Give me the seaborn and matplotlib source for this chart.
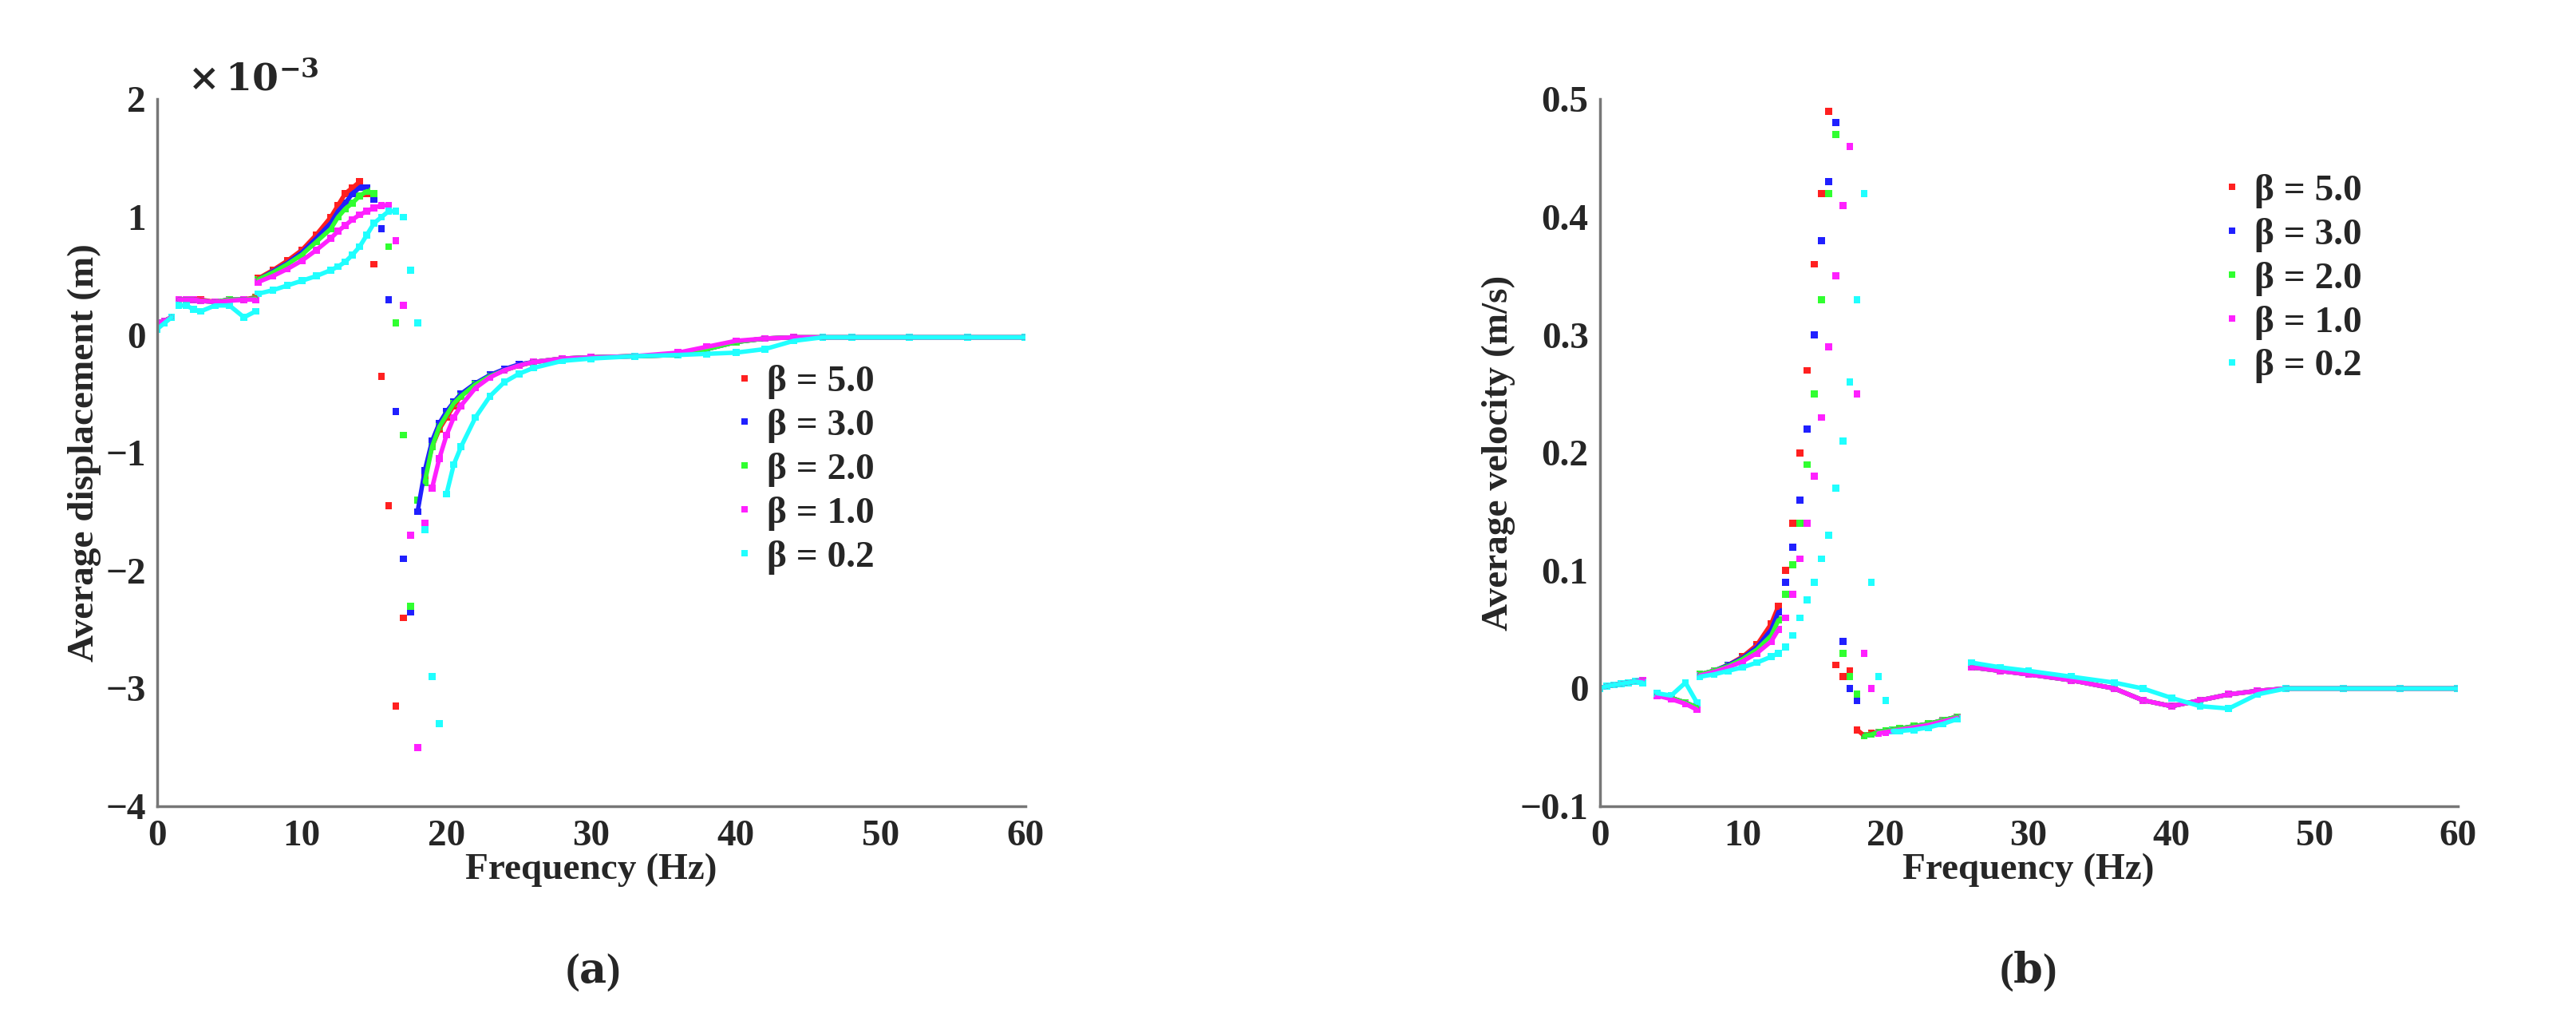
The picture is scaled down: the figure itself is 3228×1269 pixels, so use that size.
import numpy as np
import pandas as pd
import seaborn as sns
import matplotlib.pyplot as plt

sns.set_theme(style="white")
plt.rcParams['font.family'] = ['Liberation Serif', 'DejaVu Serif']
plt.rcParams['font.weight'] = 'bold'
plt.rcParams['mathtext.fontset'] = 'dejavuserif'

freq = [0, 0.5, 1, 1.5, 2, 2.5, 3, 4, 5, 6, 6.8,
        7, 8, 9, 10, 11, 12,
        12.5, 13, 13.5, 14, 14.5, 15, 15.5, 16, 16.5, 17, 17.5, 18, 18.5, 19, 19.5, 20, 20.5, 21,
        22, 23, 24, 25, 26, 28, 30,
        33, 36, 38, 40, 42, 44, 46, 48, 52, 56, 60]

betas = ["β = 5.0", "β = 3.0", "β = 2.0", "β = 1.0", "β = 0.2"]
colors = ["#ff2020", "#2020ff", "#30ff30", "#ff20ff", "#20ffff"]

# displacement, x 1e-3 m
disp_b50 = [0.10, 0.12, 0.15, 0.30, 0.30, 0.30, 0.30, 0.28, 0.30, 0.30, 0.32,
            0.48, 0.55, 0.63, 0.72, 0.85, 1.00,
            1.10, 1.20, 1.25, 1.30, 1.20, 0.60, -0.35, -1.45, -3.15, -2.40, -1.70, -1.50, -1.20, -0.95, -0.80, -0.70, -0.60, -0.52,
            -0.42, -0.35, -0.30, -0.26, -0.23, -0.20, -0.19,
            -0.18, -0.17, -0.12, -0.06, -0.03, -0.02, -0.02, -0.02, -0.02, -0.02, -0.02]
disp_b30 = [0.10, 0.12, 0.15, 0.30, 0.30, 0.30, 0.29, 0.28, 0.30, 0.30, 0.31,
            0.47, 0.54, 0.61, 0.70, 0.82, 0.95,
            1.05, 1.12, 1.20, 1.25, 1.25, 1.15, 0.90, 0.30, -0.65, -1.90, -2.35, -1.50, -1.15, -0.90, -0.75, -0.65, -0.57, -0.50,
            -0.41, -0.34, -0.29, -0.25, -0.23, -0.20, -0.19,
            -0.18, -0.17, -0.12, -0.06, -0.03, -0.02, -0.02, -0.02, -0.02, -0.02, -0.02]
disp_b20 = [0.10, 0.12, 0.15, 0.30, 0.30, 0.30, 0.29, 0.28, 0.30, 0.30, 0.31,
            0.47, 0.53, 0.60, 0.68, 0.79, 0.90,
            1.00, 1.07, 1.12, 1.18, 1.22, 1.20, 1.10, 0.75, 0.10, -0.85, -2.30, -1.40, -1.25, -0.95, -0.78, -0.68, -0.58, -0.52,
            -0.42, -0.35, -0.30, -0.26, -0.23, -0.20, -0.19,
            -0.18, -0.17, -0.12, -0.06, -0.03, -0.02, -0.02, -0.02, -0.02, -0.02, -0.02]
disp_b10 = [0.10, 0.12, 0.15, 0.30, 0.30, 0.30, 0.29, 0.28, 0.29, 0.30, 0.30,
            0.45, 0.50, 0.56, 0.63, 0.72, 0.82,
            0.88, 0.93, 0.98, 1.02, 1.05, 1.08, 1.10, 1.10, 0.80, 0.25, -1.70, -3.50, -1.60, -1.30, -1.05, -0.85, -0.70, -0.60,
            -0.45, -0.36, -0.30, -0.26, -0.23, -0.20, -0.19,
            -0.18, -0.15, -0.10, -0.05, -0.03, -0.02, -0.02, -0.02, -0.02, -0.02, -0.02]
disp_b02 = [0.05, 0.10, 0.15, 0.25, 0.25, 0.22, 0.20, 0.25, 0.25, 0.15, 0.20,
            0.35, 0.38, 0.42, 0.46, 0.50, 0.55,
            0.58, 0.62, 0.68, 0.75, 0.85, 0.95, 1.00, 1.05, 1.05, 1.00, 0.55, 0.10, -1.65, -2.90, -3.30, -1.35, -1.10, -0.95,
            -0.70, -0.52, -0.40, -0.33, -0.28, -0.22, -0.20,
            -0.18, -0.17, -0.16, -0.15, -0.12, -0.05, -0.02, -0.02, -0.02, -0.02, -0.02]

# velocity, m/s
vel_b50 = [0.000, 0.002, 0.003, 0.004, 0.005, 0.006, 0.007, -0.005, -0.008, -0.012, -0.016,
           0.012, 0.015, 0.020, 0.027, 0.037, 0.055,
           0.070, 0.100, 0.140, 0.200, 0.270, 0.360, 0.420, 0.490, 0.020, 0.010, 0.015, -0.035, -0.040, -0.038, -0.037, -0.036, -0.035, -0.034,
           -0.032, -0.030, -0.027, -0.024, 0.018, 0.015, 0.012,
           0.007, 0.000, -0.010, -0.015, -0.010, -0.005, -0.002, 0.000, 0.000, 0.000, 0.000]
vel_b30 = [0.000, 0.002, 0.003, 0.004, 0.005, 0.006, 0.007, -0.005, -0.008, -0.012, -0.016,
           0.012, 0.015, 0.020, 0.026, 0.035, 0.050,
           0.065, 0.090, 0.120, 0.160, 0.220, 0.300, 0.380, 0.430, 0.480, 0.040, 0.000, -0.010, -0.040, -0.039, -0.037, -0.036, -0.035, -0.034,
           -0.032, -0.030, -0.027, -0.024, 0.018, 0.015, 0.012,
           0.007, 0.000, -0.010, -0.015, -0.010, -0.005, -0.002, 0.000, 0.000, 0.000, 0.000]
vel_b20 = [0.000, 0.002, 0.003, 0.004, 0.005, 0.006, 0.007, -0.005, -0.008, -0.012, -0.016,
           0.012, 0.015, 0.019, 0.025, 0.033, 0.045,
           0.058, 0.080, 0.105, 0.140, 0.190, 0.250, 0.330, 0.420, 0.470, 0.030, 0.010, -0.005, -0.040, -0.039, -0.037, -0.036, -0.035, -0.034,
           -0.032, -0.030, -0.027, -0.024, 0.018, 0.015, 0.012,
           0.007, 0.000, -0.010, -0.015, -0.010, -0.005, -0.002, 0.000, 0.000, 0.000, 0.000]
vel_b10 = [0.000, 0.002, 0.003, 0.004, 0.005, 0.006, 0.007, -0.006, -0.009, -0.013, -0.018,
           0.011, 0.014, 0.018, 0.023, 0.030, 0.040,
           0.050, 0.060, 0.080, 0.110, 0.140, 0.180, 0.230, 0.290, 0.350, 0.410, 0.460, 0.250, 0.030, 0.000, -0.038, -0.037, -0.036, -0.035,
           -0.033, -0.031, -0.028, -0.025, 0.018, 0.015, 0.012,
           0.007, 0.000, -0.010, -0.015, -0.010, -0.005, -0.002, 0.000, 0.000, 0.000, 0.000]
vel_b02 = [0.000, 0.002, 0.003, 0.004, 0.005, 0.006, 0.005, -0.004, -0.006, 0.005, -0.012,
           0.010, 0.012, 0.015, 0.018, 0.022, 0.027,
           0.030, 0.035, 0.045, 0.060, 0.075, 0.090, 0.110, 0.130, 0.170, 0.210, 0.260, 0.330, 0.420, 0.090, 0.010, -0.010, -0.036, -0.036,
           -0.035, -0.033, -0.030, -0.026, 0.022, 0.018, 0.015,
           0.010, 0.005, 0.000, -0.008, -0.015, -0.017, -0.005, 0.000, 0.000, 0.000, 0.000]

disp_all = [disp_b50, disp_b30, disp_b20, disp_b10, disp_b02]
vel_all = [vel_b50, vel_b30, vel_b20, vel_b10, vel_b02]

# frequency ranges where a series is drawn as a continuous trace
disp_rise_end = [14, 14.5, 15, 16, 16.5]
disp_tail = [18.5, 18, 18.5, 19, 20]
vel_low = [(0, 3), (4, 6.8), (7, 12.5), (26, 60)]
vel_mid_start = [18, 18.5, 18.5, 19.5, 20.5]


def make_frame(values_all):
    rows = []
    for b, vals in zip(betas, values_all):
        for f, v in zip(freq, vals):
            rows.append({"freq": f, "val": v, "beta": b})
    return pd.DataFrame(rows)


fig = plt.figure(figsize=(32.28, 12.69), dpi=100)
ax_a = fig.add_axes([0.061, 0.204, 0.337, 0.698])
ax_b = fig.add_axes([0.621, 0.204, 0.333, 0.698])
palette = dict(zip(betas, colors))

df_a = make_frame(disp_all)
df_b = make_frame(vel_all)

for ax, df in [(ax_a, df_a), (ax_b, df_b)]:
    sns.scatterplot(data=df, x="freq", y="val", hue="beta", palette=palette,
                    marker="s", s=40, linewidth=0, ax=ax, legend=True)


def trace(ax, sub, lo, hi, color):
    seg = sub[(sub.freq >= lo) & (sub.freq <= hi)]
    sns.lineplot(data=seg, x="freq", y="val", color=color, lw=4, ax=ax,
                 legend=False, sort=True, estimator=None)


for i, b in enumerate(betas):
    sub = df_a[df_a.beta == b]
    for lo, hi in [(0, 1), (1.5, 6.8), (7, disp_rise_end[i]), (disp_tail[i], 60)]:
        trace(ax_a, sub, lo, hi, colors[i])
    sub = df_b[df_b.beta == b]
    for lo, hi in vel_low + [(vel_mid_start[i], 25)]:
        trace(ax_b, sub, lo, hi, colors[i])

fs = 34
for ax in (ax_a, ax_b):
    ax.set_xlim(0, 60)
    ax.set_xticks(range(0, 61, 10))
    ax.set_xlabel("Frequency (Hz)", fontsize=fs, fontweight="bold", labelpad=0)
    for s in ["top", "right"]:
        ax.spines[s].set_visible(False)
    for s in ["left", "bottom"]:
        ax.spines[s].set_color("#777777")
        ax.spines[s].set_linewidth(2.5)
    ax.tick_params(direction="in", length=7, width=1.5, color="#777777", labelsize=fs)
    ax.tick_params(axis="x", pad=12)
    ax.tick_params(axis="y", pad=10)
    for t in ax.get_xticklabels():
        t.set_fontweight("bold")

ax_a.set_ylim(-4, 2)
ax_a.set_yticks(range(-4, 3))
ax_a.set_yticklabels(["−4", "−3", "−2", "−1", "0", "1", "2"], fontsize=fs, fontweight="bold")
ax_a.set_ylabel("Average displacement (m)", fontsize=fs, fontweight="bold")
ax_a.text(0.035, 1.0, r"$\times\,10^{-3}$", transform=ax_a.transAxes, fontsize=fs,
          va="bottom", ha="left")

ax_b.set_ylim(-0.1, 0.5)
ax_b.set_yticks([-0.1, 0, 0.1, 0.2, 0.3, 0.4, 0.5])
ax_b.set_yticklabels(["−0.1", "0", "0.1", "0.2", "0.3", "0.4", "0.5"], fontsize=fs, fontweight="bold")
ax_b.set_ylabel("Average velocity (m/s)", fontsize=fs, fontweight="bold")

for ax, loc in [(ax_a, (0.62, 0.28)), (ax_b, (0.68, 0.55))]:
    ax.legend(loc="lower left", bbox_to_anchor=loc, frameon=False,
              prop={"size": fs, "weight": "bold"}, handletextpad=0.2,
              labelspacing=0.25, markerscale=0.8, handlelength=0.8)

fig.text(0.23, 0.03, r"($\mathbf{a}$)", ha="center", fontsize=fs + 4)
fig.text(0.787, 0.03, r"($\mathbf{b}$)", ha="center", fontsize=fs + 4)

fig.savefig("out.png", dpi=100)
